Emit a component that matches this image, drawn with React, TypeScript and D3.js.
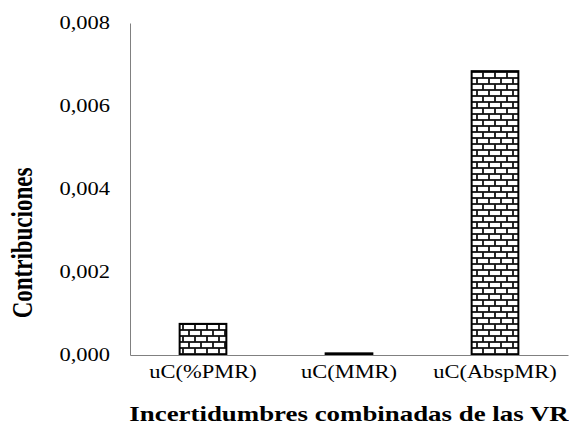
import React, { useEffect, useRef } from "react";
import * as d3 from "d3";

const categories = ["uC(%PMR)", "uC(MMR)", "uC(AbspMR)"];
const values = [0.00075, 0.00004, 0.00684];
const yTicks = [0, 0.002, 0.004, 0.006, 0.008];

const W = 569;
const H = 425;
const stretch = 1.25;

const App: React.FC = () => {
    const svgRef = useRef<SVGSVGElement | null>(null);

    useEffect(() => {
        const svg = d3.select(svgRef.current);
        svg.selectAll("*").remove();
        const margin = { top: 23, right: 1, bottom: 70, left: 130 };
        const width = W - margin.left - margin.right;
        const height = H - margin.top - margin.bottom;
        const font = "'Liberation Serif', 'Times New Roman', serif";

        // brick pattern
        const defs = svg.append("defs");
        const pat = defs.append("pattern")
            .attr("id", "bricks")
            .attr("patternUnits", "userSpaceOnUse")
            .attr("width", 12)
            .attr("height", 12)
            .attr("x", margin.left)
            .attr("y", margin.top + height);
        pat.append("rect").attr("width", 12).attr("height", 12).attr("fill", "#fff");
        const pline = (x1: number, y1: number, x2: number, y2: number) =>
            pat.append("line").attr("x1", x1).attr("y1", y1).attr("x2", x2).attr("y2", y2)
                .attr("stroke", "#111").attr("stroke-width", 1.8);
        pline(0, 0, 12, 0);
        pline(0, 6, 12, 6);
        pline(0, 12, 12, 12);
        pline(1, 0, 1, 6);
        pline(7, 6, 7, 12);

        const g = svg.append("g").attr("transform", `translate(${margin.left},${margin.top})`);

        const x = d3.scaleBand<string>().domain(categories).range([0, width])
            .paddingInner(0.68).paddingOuter(0.34);
        const y = d3.scaleLinear().domain([0, 0.008]).range([height, 0]);

        // bars
        g.selectAll("rect.bar")
            .data(values)
            .enter()
            .append("rect")
            .attr("class", "bar")
            .attr("x", (_d, i) => x(categories[i])!)
            .attr("y", (d) => y(d))
            .attr("width", x.bandwidth())
            .attr("height", (d) => height - y(d))
            .attr("fill", "url(#bricks)")
            .attr("stroke", "#000")
            .attr("stroke-width", 2);

        // y axis
        const fmt = d3.format(".3f");
        const yAxis = g.append("g")
            .call(d3.axisLeft(y).tickValues(yTicks).tickSize(0).tickPadding(20)
                .tickFormat((d) => fmt(d as number).replace(".", ",")));
        yAxis.select(".domain").attr("stroke", "#808080");
        yAxis.selectAll("text")
            .attr("x", -20 / stretch)
            .attr("transform", `scale(${stretch},1)`)
            .style("font-family", font)
            .style("font-size", "18px")
            .attr("fill", "#000");

        // x axis
        const xAxis = g.append("g")
            .attr("transform", `translate(0,${height})`)
            .call(d3.axisBottom(x).tickSize(0).tickPadding(0));
        xAxis.select(".domain").attr("stroke", "#808080");
        xAxis.selectAll("text")
            .attr("dy", 0)
            .attr("y", 23)
            .attr("transform", `scale(${stretch},1)`)
            .style("font-family", font)
            .style("font-size", "18px")
            .attr("fill", "#000");

        // titles
        svg.append("text")
            .attr("transform", `translate(${margin.left + width / 2},421) scale(${stretch},1)`)
            .attr("text-anchor", "middle")
            .style("font-family", font)
            .style("font-size", "21.5px")
            .style("font-weight", "bold")
            .text("Incertidumbres combinadas de las VR");

        svg.append("text")
            .attr("transform", `translate(32,243) scale(${stretch},1) rotate(-90)`)
            .attr("text-anchor", "middle")
            .style("font-family", font)
            .style("font-size", "23px")
            .style("font-weight", "bold")
            .text("Contribuciones");
    }, []);

    return (
        <div style={{ position: "absolute", left: 0, top: 0 }}>
            <svg ref={svgRef} width={W} height={H} style={{ display: "block", background: "#fff" }}></svg>
        </div>
    );
};

export default App;
